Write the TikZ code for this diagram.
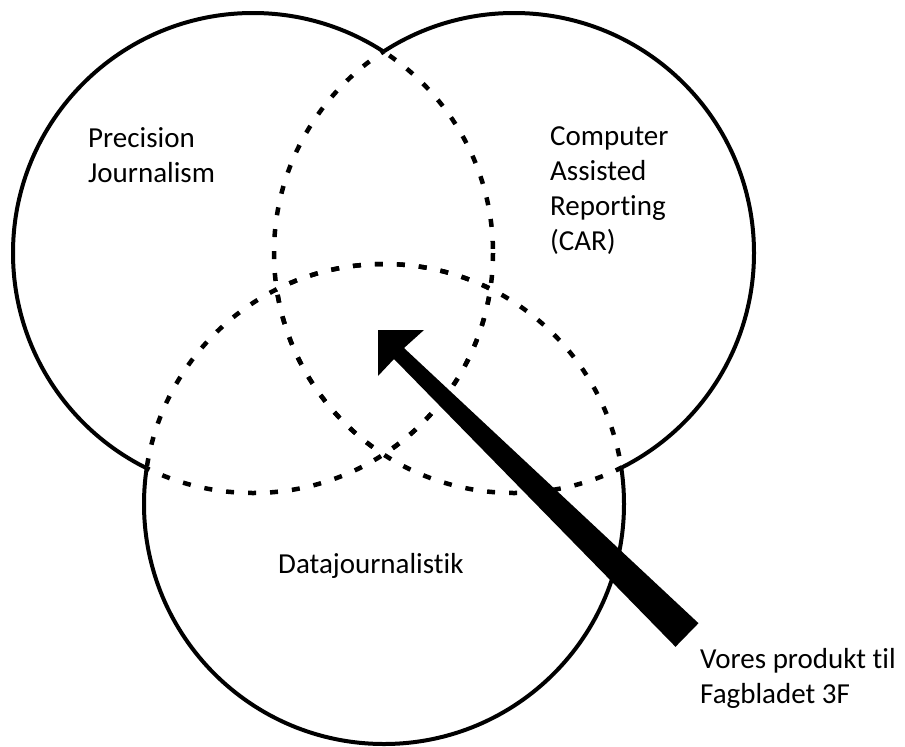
\documentclass[tikz,border=0pt]{standalone}
\usepackage{fontspec}
\setmainfont{Carlito}[Ligatures=NoCommon]
\usetikzlibrary{calc}

\begin{document}
\begin{tikzpicture}[x=1pt,y=-1pt,
    ring/.style={line width=4pt},
    inner/.style={line width=4.5pt,dash pattern=on 8pt off 14pt},
    txt/.style={align=left,anchor=base west,inner sep=0pt,
      font=\fontsize{29}{35}\selectfont}]
  \useasboundingbox (0,0) rectangle (905,747);
  \def\rad{240}
  % centres of the three sets
  \coordinate (pj) at (253,253);
  \coordinate (car) at (514,253);
  \coordinate (dj) at (384,504);

  % each circle: dashed inside the others, solid outside them
  \foreach \a/\b/\c in {pj/car/dj, car/pj/dj, dj/pj/car} {
    \begin{scope}
      \clip (\b) circle[radius=\rad];
      \draw[inner] (\a) circle[radius=\rad];
    \end{scope}
    \begin{scope}
      \clip (\c) circle[radius=\rad];
      \draw[inner] (\a) circle[radius=\rad];
    \end{scope}
    \begin{scope}[even odd rule]
      \clip (-10,-10) rectangle (915,757) (\b) circle[radius=\rad];
      \clip (-10,-10) rectangle (915,757) (\c) circle[radius=\rad];
      \draw[ring] (\a) circle[radius=\rad];
    \end{scope}
  }

  % base = baseline of the last line
  \node[txt] (pjtext) at (88,182) {Precision\\Journalism};
  \node[txt] (cartext) at (550,250) {Computer\\Assisted\\Reporting\\(CAR)};
  \node[txt] (djtext) at (278,573) {Datajournalistik};
  \node[txt] (product) at (700,703) {Vores produkt til\\Fagbladet 3F};

  % the fat arrow
  \coordinate (tip) at (378,330);
  \coordinate (tail) at (687,635);
  \fill (tip) -- ++(46,0) -- (404,348) -- ($(tail)+(11.5,-11.8)$)
    -- ($(tail)+(-11.5,11.8)$) -- (394,359) -- ($(tip)+(0,46)$) -- cycle;
\end{tikzpicture}
\end{document}
